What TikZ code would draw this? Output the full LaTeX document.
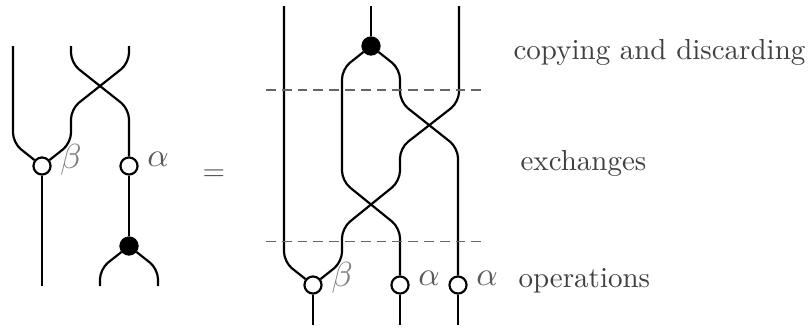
\documentclass[tikz,border=0pt]{standalone}
\tikzset{
	wire/.style={line width=0.75pt,rounded corners=3.5pt},
	opdot/.style={circle,draw,line width=0.75pt,fill=white,inner sep=0pt,minimum size=5.9pt},
	copydot/.style={circle,draw,fill=black,line width=0.75pt,inner sep=0pt,minimum size=5.9pt},
	sep/.style={black!60,line width=0.35pt,dash pattern=on 3.4pt off 2.05pt},
	alpha text/.style={text=black!65,scale=1.15},
	beta text/.style={text=black!50,scale=1.2},
	layer text/.style={text=black!75,anchor=west,inner sep=0pt},
}
\begin{document}
\begin{tikzpicture}[x=0.345pt,y=-0.345pt]
	\useasboundingbox (0,0) rectangle (809,331);

	% Left: operations first, then copying
	\node[opdot] (betaL) at (42,166) {};
	\node[opdot] (alphaL) at (129,166) {};
	\node[copydot] (copyL) at (129,246) {};
	\coordinate (inAL) at (13,46);
	\coordinate (inBL) at (71,46);
	\coordinate (inCL) at (129,46);
	\coordinate (outAL) at (42,286);
	\coordinate (outBL) at (100,286);
	\coordinate (outCL) at (158,286);
	\draw[wire] (inAL) -- (13,143) -- (betaL);
	\draw[wire] (inCL) -- (129,63) -- (71,109) -- (71,143) -- (betaL);
	\draw[wire] (inBL) -- (71,63) -- (129,109) -- (alphaL);
	\draw[wire] (betaL) -- (outAL);
	\draw[wire] (alphaL) -- (copyL);
	\draw[wire] (copyL) -- (100,269) -- (outBL);
	\draw[wire] (copyL) -- (158,269) -- (outCL);
	\node[beta text] (betaLabelL) at (71,160) {$\beta$};
	\node[alpha text] (alphaLabelL) at (158,159) {$\alpha$};

	\node[text=black!65] (eq) at (214,175) {$=$};

	% Right: three layers
	\node[copydot] (copyR) at (371,46) {};
	\node[opdot] (betaR) at (313,285) {};
	\node[opdot] (alphaRa) at (400,285) {};
	\node[opdot] (alphaRb) at (458,285) {};
	\coordinate (inAR) at (284,6);
	\coordinate (inBR) at (371,6);
	\coordinate (inCR) at (459,6);
	\coordinate (outAR) at (313,325);
	\coordinate (outBR) at (400,325);
	\coordinate (outCR) at (458,325);
	\draw[wire] (inAR) -- (284,262) -- (betaR);
	\draw[wire] (inBR) -- (copyR);
	\draw[wire] (copyR) -- (342,69) -- (342,181) -- (400,228) -- (alphaRa);
	\draw[wire] (copyR) -- (400,69) -- (400,102) -- (458,148) -- (alphaRb);
	\draw[wire] (inCR) -- (459,102) -- (400,148) -- (400,181) -- (342,228) -- (342,262) -- (betaR);
	\draw[wire] (betaR) -- (outAR);
	\draw[wire] (alphaRa) -- (outBR);
	\draw[wire] (alphaRb) -- (outCR);
	\node[beta text] (betaLabelR) at (342,278) {$\beta$};
	\node[alpha text] (alphaLabelRa) at (429,278) {$\alpha$};
	\node[alpha text] (alphaLabelRb) at (487,278) {$\alpha$};

	% Separators
	\coordinate (sepAl) at (266,90);
	\coordinate (sepAr) at (482,90);
	\coordinate (sepBl) at (266,241);
	\coordinate (sepBr) at (482,241);
	\draw[sep] (sepAl) -- (sepAr);
	\draw[sep] (sepBl) -- (sepBr);

	% Layer names
	\node[layer text] (layerA) at (513,52) {copying and discarding};
	\node[layer text] (layerB) at (520,163) {exchanges};
	\node[layer text] (layerC) at (518,281) {operations};
\end{tikzpicture}
\end{document}
